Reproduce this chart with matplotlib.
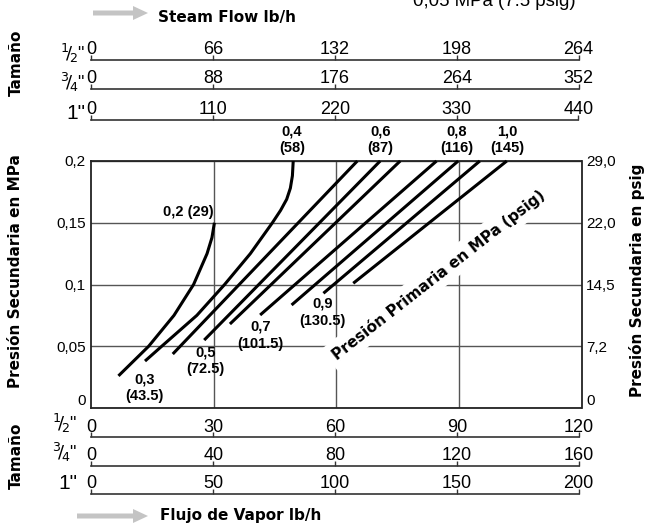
import matplotlib
matplotlib.use('Agg')
import matplotlib.pyplot as plt
from matplotlib import font_manager
from matplotlib.patches import FancyArrow

# escalas de flujo (lb/h) por tamaño
top_half = [0, 66, 132, 198, 264]
top_3q = [0, 88, 176, 264, 352]
top_one = [0, 110, 220, 330, 440]
bot_half = [0, 30, 60, 90, 120]
bot_3q = [0, 40, 80, 120, 160]
bot_one = [0, 50, 100, 150, 200]

# presión secundaria
mpa_ticks = [0, 0.05, 0.1, 0.15, 0.2]
mpa_labels = ['0', '0,05', '0,1', '0,15', '0,2']
psig_labels = ['0', '7,2', '14,5', '22,0', '29,0']

# curvas: flujo (escala 1/2") vs presión secundaria (MPa)
p02_x = [6.6, 10.3, 14.0, 20.2, 25.0, 28.3, 29.5, 30.1]
p02_y = [0.026, 0.038, 0.05, 0.075, 0.1, 0.125, 0.138, 0.15]
p03_x = [13.1, 17.2, 25.8, 32.6, 38.9, 44.3, 46.3, 47.8, 48.7, 49.2, 49.4]
p03_y = [0.038, 0.05, 0.075, 0.1, 0.125, 0.15, 0.16, 0.169, 0.178, 0.188, 0.2]
p04_x, p04_y = [19.9, 65.1], [0.0437, 0.2]
p05_x, p05_y = [27.6, 70.7], [0.055, 0.2]
p06_x, p06_y = [33.9, 75.6], [0.068, 0.2]
p07_x, p07_y = [41.3, 84.5], [0.0753, 0.2]
p08_x, p08_y = [49.0, 89.8], [0.0834, 0.2]
p09_x, p09_y = [56.8, 95.1], [0.0929, 0.2]
p10_x, p10_y = [64.1, 101.7], [0.101, 0.2]

W, H = 649, 528
names = {f.name for f in font_manager.fontManager.ttflist}
narrow = 'Liberation Sans Narrow' if 'Liberation Sans Narrow' in names else 'Liberation Sans'
bold_font = 'DejaVu Sans'
lab_font = 'Liberation Sans'


def fx(px):
    return px / W


def fy(py):
    return 1 - py / H


fig = plt.figure(figsize=(W / 100, H / 100), dpi=100)

# grafico principal
ax = fig.add_axes([fx(91.5), fy(408), (581.5 - 91.5) / W, (408 - 161) / H])
ax.set_xlim(0, 120)
ax.set_ylim(0, 0.2)
ax.set_xticks(bot_half[1:-1])
ax.set_xticklabels([])
ax.set_yticks(mpa_ticks, mpa_labels)
ax.tick_params(length=0, pad=4.3, labelsize=11)
for t in ax.get_yticklabels():
    t.set_fontfamily(narrow)
ax.yaxis.get_major_ticks()[0].label1.set_va('bottom')
ax.grid(True, color='#555555', lw=1.0)
ax.set_axisbelow(True)
for s in ax.spines.values():
    s.set_color('#222222')
    s.set_linewidth(1.3)

ax2 = ax.twinx()
ax2.set_ylim(0, 0.2)
ax2.set_yticks(mpa_ticks, psig_labels)
ax2.tick_params(length=0, pad=3.2, labelsize=11)
for t in ax2.get_yticklabels():
    t.set_fontfamily(narrow)
ax2.yaxis.get_major_ticks()[0].label2.set_va('bottom')
for s in ax2.spines.values():
    s.set_visible(False)

curves = [(p02_x, p02_y), (p03_x, p03_y), (p04_x, p04_y), (p05_x, p05_y),
          (p06_x, p06_y), (p07_x, p07_y), (p08_x, p08_y), (p09_x, p09_y),
          (p10_x, p10_y)]
for cx, cy in curves:
    ax.plot(cx, cy, color='black', lw=2.2, solid_capstyle='butt',
            solid_joinstyle='round', zorder=4, clip_on=False)

lab_kw = dict(fontsize=10.5, fontweight='bold', fontfamily=lab_font, clip_on=False,
              linespacing=1.25, multialignment='center', zorder=5)
ax.text(29.8, 0.153, '0,2 (29)', ha='right', va='bottom', **lab_kw)
ax.text(12.9, 0.029, '0,3\n(43.5)', ha='center', va='top', **lab_kw)
ax.text(28.0, 0.051, '0,5\n(72.5)', ha='center', va='top', **lab_kw)
ax.text(41.3, 0.0713, '0,7\n(101.5)', ha='center', va='top', **lab_kw)
ax.text(56.5, 0.0899, '0,9\n(130.5)', ha='center', va='top', **lab_kw)
ax.text(49.1, 0.205, '0,4\n(58)', ha='center', va='bottom', **lab_kw)
ax.text(70.7, 0.205, '0,6\n(87)', ha='center', va='bottom', **lab_kw)
ax.text(89.5, 0.205, '0,8\n(116)', ha='center', va='bottom', **lab_kw)
ax.text(101.8, 0.205, '1,0\n(145)', ha='center', va='bottom', **lab_kw)

ax.text(84.9, 0.1077, 'Presión Primaria en MPa (psig)', rotation=38, rotation_mode='anchor',
        ha='center', va='center', fontsize=11, fontweight='bold', fontfamily=bold_font,
        bbox=dict(fc='white', ec='none', pad=4), zorder=3)


# filas de tamaño
def scale_row(y_px, ticks, frac, lab_x, lab_y, big=False):
    a = fig.add_axes([fx(91.5), fy(y_px), (578.5 - 91.5) / W, 0.0001])
    a.patch.set_visible(False)
    a.set_xlim(ticks[0], ticks[-1])
    a.set_xticks(ticks)
    a.set_yticks([])
    a.xaxis.tick_top()
    a.tick_params(axis='x', direction='out', length=3.6, width=1, pad=-2.3,
                  labelsize=13, color='#333333')
    for t in a.get_xticklabels():
        t.set_fontfamily(narrow)
    for k, s in a.spines.items():
        s.set_visible(k == 'top')
    a.spines['top'].set_color('#333333')
    a.spines['top'].set_linewidth(1.2)
    fig.text(fx(lab_x), fy(lab_y), frac, ha='right', va='baseline',
             fontsize=15 if big else 13, fontfamily=narrow)


half = r'$^{1}\!/\!_{2}$"'
quarter = r'$^{3}\!/\!_{4}$"'
scale_row(60, top_half, half, 85, 60)
scale_row(89.3, top_3q, quarter, 85, 89)
scale_row(120, top_one, '1"', 85, 119, big=True)
scale_row(437.5, bot_half, half, 77, 430)
scale_row(466, bot_3q, quarter, 77, 459)
scale_row(494, bot_one, '1"', 77, 489, big=True)

# textos de ejes
tkw = dict(fontsize=11, fontweight='bold', fontfamily=bold_font)
fig.text(fx(158), fy(22), 'Steam Flow lb/h', ha='left', va='baseline', **tkw)
fig.text(fx(160), fy(520), 'Flujo de Vapor lb/h', ha='left', va='baseline', **tkw)
fig.text(fx(16), fy(63), 'Tamaño', rotation=90, ha='center', va='center', **tkw)
fig.text(fx(16), fy(456), 'Tamaño', rotation=90, ha='center', va='center', **tkw)
fig.text(fx(16), fy(271), 'Presión Secundaria en MPa', rotation=90, ha='center', va='center', **tkw)
fig.text(fx(637), fy(280), 'Presión Secundaria en psig', rotation=90, ha='center', va='center', **tkw)
# texto recortado arriba, como en el original
fig.text(fx(413), fy(6), '0,05 MPa (7.5 psig)', ha='left', va='baseline', fontsize=13.4, fontfamily=narrow)

# flechas grises
for x0, x1, yy in [(93, 148, 13), (77, 148, 516)]:
    fig.patches.append(FancyArrow(fx(x0), fy(yy), (x1 - x0) / W, 0, width=5 / H,
                                  head_width=14 / H, head_length=15 / W,
                                  length_includes_head=True, transform=fig.transFigure,
                                  color='#c4c4c4', lw=0))

fig.savefig('out.png', dpi=100)
